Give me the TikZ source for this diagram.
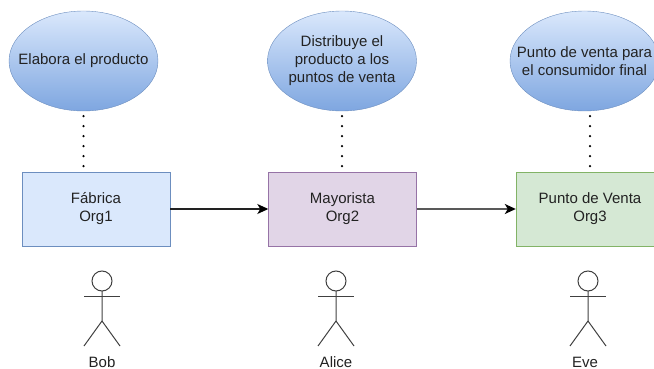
\documentclass[tikz,border=0pt]{standalone}
\usepackage{fontspec}
\setmainfont{Liberation Sans}
\usetikzlibrary{arrows.meta,shapes.geometric}
\definecolor{blueFill}{HTML}{DAE8FC}
\definecolor{blueLine}{HTML}{6C8EBF}
\definecolor{blueDark}{HTML}{7EA6E0}
\definecolor{purpleFill}{HTML}{E1D5E7}
\definecolor{purpleLine}{HTML}{9673A6}
\definecolor{greenFill}{HTML}{D5E8D4}
\definecolor{greenLine}{HTML}{82B366}
\definecolor{inkGray}{HTML}{222222}
\tikzset{
  txt/.style={font=\fontsize{15}{18}\selectfont,text=inkGray,align=center,inner sep=0pt},
  goal/.style={txt,ellipse,draw=blueLine,top color=blueFill,bottom color=blueDark,inner xsep=-16pt,minimum width=149pt,minimum height=100pt},
  org/.style={txt,draw,minimum width=148pt,minimum height=74pt},
  dots/.style={line width=2.5pt,line cap=round,dash pattern=on 0pt off 10pt,dash phase=5pt,shorten >=5pt},
  flow/.style={-{Stealth[length=11pt,width=10pt,inset=3pt,color=black]},line width=1.1pt,draw=inkGray},
  limb/.style={line width=1pt,draw=black!75},
  actor/.pic={
    \draw[limb] (0,-79) circle (10);
    \draw[limb] (-18,-64) -- (18,-64);
    \draw[limb] (0,-69) -- (0,-39) -- (-18,-14);
    \draw[limb] (0,-39) -- (18,-14);
  }
}
\begin{document}
\begin{tikzpicture}[x=1pt,y=-1pt]
  \clip (0,0) rectangle (654,369);
  \node[goal] (goal1) at (83.5,61) {Elabora el producto};
  \node[goal] (goal2) at (342,61) {Distribuye el\\producto a los\\puntos de venta};
  \node[goal] (goal3) at (584.5,61) {Punto de venta para\\el consumidor final};

  \node[org,fill=blueFill,draw=blueLine] (fabrica) at (96,209) {Fábrica\\Org1};
  \node[org,fill=purpleFill,draw=purpleLine] (mayorista) at (342.5,209) {Mayorista\\Org2};
  \node[org,fill=greenFill,draw=greenLine] (venta) at (590,209) {Punto de Venta\\Org3};

  \draw[dots] (goal1.south) -- (goal1.south |- fabrica.north);
  \draw[dots] (goal2.south) -- (goal2.south |- mayorista.north);
  \draw[dots] (goal3.south -| venta.north) -- (venta.north);

  \draw[flow] (fabrica) -- (mayorista);
  \draw[flow,line width=1.6pt,draw=black!65] (mayorista) -- (venta);

  \path (102,360) pic {actor};
  \path (336,360) pic {actor};
  \path (588,360) pic {actor};
  \node[txt,anchor=base] (bob) at (102,367) {Bob};
  \node[txt,anchor=base] (alice) at (336,367) {Alice};
  \node[txt,anchor=base] (eve) at (585,367) {Eve};
\end{tikzpicture}
\end{document}
